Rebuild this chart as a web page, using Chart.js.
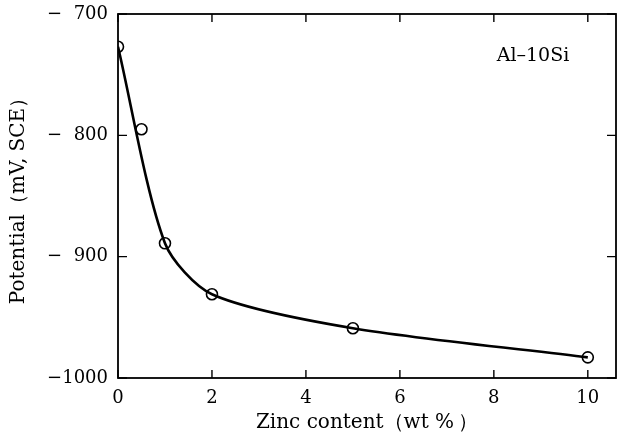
<!DOCTYPE html>
<html>
<head>
<meta charset="utf-8">
<script src="https://cdn.jsdelivr.net/npm/chart.js@4.4.0/dist/chart.umd.min.js"></script>
<style>
  html, body { margin: 0; padding: 0; background: #fff; }
</style>
</head>
<body>
<canvas id="chart" width="618" height="441"></canvas>
<script>
// measured points
const zinc = [0, 0.5, 1, 2, 5, 10];
const potential = [-727, -795, -889, -931, -959, -983];

// points the drawn curve passes through (0.5 wt% lies off the curve)
const curveZinc = [0, 1, 2, 5, 10];
const curvePotential = [-727, -889, -931, -959, -983];

const xTicks = [0, 2, 4, 6, 8, 10];
const yTicks = [-1000, -900, -800, -700];

const serif = "'DejaVu Serif', 'Liberation Serif', serif";

function noPad(scale) {
  scale.paddingLeft = 0;
  scale.paddingRight = 0;
  scale.paddingTop = 0;
  scale.paddingBottom = 0;
}

const framePlugin = {
  id: "frame",
  afterDatasetsDraw(chart) {
    const c = chart.ctx;
    const a = chart.chartArea;
    const xs = chart.scales.x;
    const ys = chart.scales.y;
    c.save();
    c.strokeStyle = "#000";
    c.lineWidth = 1.8;
    c.strokeRect(a.left, a.top, a.right - a.left, a.bottom - a.top);
    c.lineWidth = 1.4;
    c.beginPath();
    xTicks.forEach(v => {
      const px = xs.getPixelForValue(v);
      c.moveTo(px, a.bottom); c.lineTo(px, a.bottom - 8);
      c.moveTo(px, a.top); c.lineTo(px, a.top + 8);
    });
    yTicks.forEach(v => {
      const py = ys.getPixelForValue(v);
      c.moveTo(a.left, py); c.lineTo(a.left + 9, py);
      c.moveTo(a.right, py); c.lineTo(a.right - 9, py);
    });
    c.stroke();
    // alloy label
    c.fillStyle = "#000";
    c.font = "19px " + serif;
    c.textAlign = "center";
    c.textBaseline = "middle";
    c.fillText("Al\u201310Si", 533, a.top + 42);
    c.restore();
  }
};

new Chart(document.getElementById("chart"), {
  type: "scatter",
  data: {
    datasets: [
      {
        type: "line",
        data: curveZinc.map((x, i) => ({ x: x, y: curvePotential[i] })),
        borderColor: "#000",
        borderWidth: 2.6,
        pointRadius: 0,
        tension: 0.27,
        fill: false
      },
      {
        data: zinc.map((x, i) => ({ x: x, y: potential[i] })),
        pointRadius: 5.5,
        pointBorderWidth: 1.6,
        pointBorderColor: "#000",
        pointBackgroundColor: "#fff"
      }
    ]
  },
  options: {
    responsive: false,
    animation: false,
    devicePixelRatio: 1,
    layout: {
      autoPadding: false,
      padding: { top: 14, right: 2, left: 0, bottom: 0 }
    },
    plugins: {
      legend: { display: false },
      tooltip: { enabled: false }
    },
    scales: {
      x: {
        type: "linear",
        min: 0,
        max: 10.6,
        afterBuildTicks(scale) { scale.ticks = xTicks.map(v => ({ value: v })); },
        afterFit(scale) { scale.height = 63; noPad(scale); },
        grid: { display: false },
        border: { display: false },
        ticks: {
          color: "#000",
          padding: 2,
          maxRotation: 0,
          font: { family: serif, size: 18 }
        },
        title: {
          display: true,
          text: "Zinc content\uff08wt %\u2009\uff09",
          color: "#000",
          padding: { top: 0, bottom: 6 },
          font: { family: serif, size: 20 }
        }
      },
      y: {
        min: -1000,
        max: -700,
        afterBuildTicks(scale) { scale.ticks = yTicks.map(v => ({ value: v })); },
        afterFit(scale) { scale.width = 118; noPad(scale); },
        grid: { display: false },
        border: { display: false },
        ticks: {
          color: "#000",
          padding: 2,
          font: { family: serif, size: 18 },
          callback: v => "\u2212" + (Math.abs(v) < 1000 ? "\u2007" : "") + Math.abs(v)
        },
        title: {
          display: true,
          text: "Potential\uff08mV, SCE\uff09",
          color: "#000",
          padding: { top: 7, bottom: 0 },
          font: { family: serif, size: 20 }
        }
      }
    }
  },
  plugins: [framePlugin]
});
</script>
</body>
</html>
